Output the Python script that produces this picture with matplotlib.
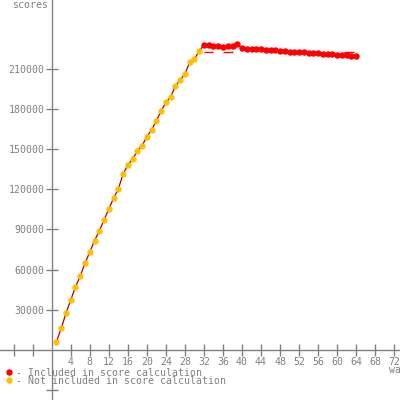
import matplotlib
matplotlib.use("Agg")
import matplotlib.pyplot as plt
from matplotlib.lines import Line2D

# ---- data ----
waves_not_incl = list(range(1, 32))
scores_not_incl = [6200, 16200, 27400, 37300, 47000, 55200, 64700, 73100, 81600, 88800,
                   97000, 105200, 113300, 120100, 131300, 138000, 142500, 148500, 152500, 159200,
                   164200, 171100, 178400, 184800, 188800, 197000, 201500, 206000, 214700, 217200,
                   223100]
waves_incl = list(range(32, 65))
scores_incl = [227600, 227400, 227000, 226500, 226200, 226800, 227200, 228000, 225200, 225000,
               224900, 224600, 224400, 224000, 224000, 223800, 223500, 223000, 222600, 222600,
               222400, 222200, 221800, 221600, 221300, 221200, 221000, 220800, 220400, 220000,
               219800, 219600, 219400]
whisker_x = [33, 37, 62.5]
whisker_y = [222200, 222200, 222200]

x_ticks = [-8, -4] + list(range(4, 73, 4))
x_tick_labels = [""] * 2 + [str(v) for v in range(4, 73, 4)]
y_ticks = [-30000] + list(range(30000, 210001, 30000))
y_tick_labels = [""] + [str(v) for v in range(30000, 210001, 30000)]

legend_labels = ["- Included in score calculation", "- Not included in score calculation"]

GRAY = "#808080"
RED = "#ff0000"
ORANGE = "#ffbf00"
LINE = "#b00000"
FONT = "DejaVu Sans Mono"
FS = 7.1
MS = 3.6

fig = plt.figure(figsize=(4, 4), dpi=100)
ax = fig.add_axes([0, 0, 1, 1])
ax.set_xlim(-10.86, 73.2)
ax.set_ylim(-37300, 261200)

for s in ["top", "right"]:
    ax.spines[s].set_visible(False)
ax.spines["left"].set_position(("data", 0))
ax.spines["bottom"].set_position(("data", 0))
for s in ["left", "bottom"]:
    ax.spines[s].set_color(GRAY)
    ax.spines[s].set_linewidth(1)

ax.set_xticks(x_ticks)
ax.set_xticklabels(x_tick_labels)
ax.set_yticks(y_ticks)
ax.set_yticklabels(y_tick_labels)
ax.tick_params(axis="both", direction="inout", length=8, width=1, color=GRAY,
               labelcolor=GRAY, labelsize=FS, pad=1)
for lab in ax.get_xticklabels() + ax.get_yticklabels():
    lab.set_fontfamily(FONT)

# line through all points
all_x = waves_not_incl + waves_incl
all_y = scores_not_incl + scores_incl
ax.plot(all_x, all_y, color=LINE, lw=0.9, zorder=2)
ax.plot(waves_not_incl, scores_not_incl, ls="none", marker="o", ms=MS,
        mfc=ORANGE, mec=ORANGE, alpha=0.95, zorder=3)
ax.plot(waves_incl, scores_incl, ls="none", marker="o", ms=MS,
        mfc=RED, mec=RED, zorder=3)
ax.hlines(whisker_y, [x - 1.0 for x in whisker_x], [x + 1.0 for x in whisker_x],
          color=RED, lw=1, zorder=2)

# axis titles
fig.text(12 / 400, 1 - 5 / 400, "scores", color=GRAY, fontsize=FS, family=FONT,
         ha="left", va="center")
fig.text(389 / 400, 1 - 370 / 400, "waves", color=GRAY, fontsize=FS, family=FONT,
         ha="left", va="center")

# legend
for i, (lab, col) in enumerate(zip(legend_labels, [RED, ORANGE])):
    yy = 1 - (372 + 8 * i) / 400
    fig.add_artist(Line2D([9.3 / 400], [yy], marker="o", ms=MS, mfc=col, mec=col,
                          ls="none", transform=fig.transFigure))
    fig.text(16 / 400, yy - 0.002, lab, color=GRAY, fontsize=FS, family=FONT,
             ha="left", va="center")

fig.savefig("out.png", dpi=100)
